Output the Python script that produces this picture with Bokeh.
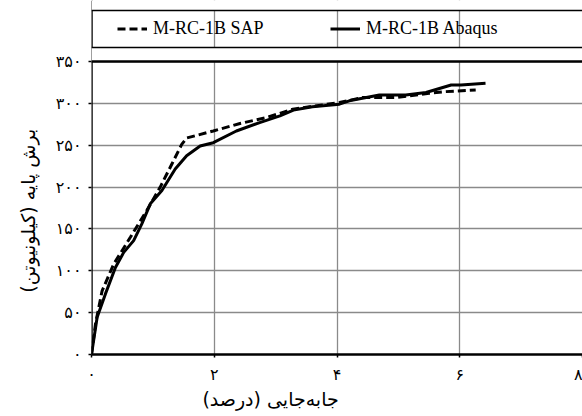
from bokeh.plotting import figure
from bokeh.models import Range1d, Legend, LegendItem, FixedTicker, Span, BoxAnnotation
from bokeh.embed import file_html
from bokeh.resources import INLINE

# Data
sap_x = [0, 0.065, 0.173, 0.362, 0.633, 0.9, 1.12, 1.31, 1.47, 1.55, 1.985, 2.42, 2.85, 3.28, 4.04, 4.42, 4.96, 5.5, 5.77, 6.26]
sap_y = [0, 36.6, 76, 108, 140, 172, 200, 227.6, 251, 258.6, 267, 276, 283, 293, 301, 307, 307, 312, 314, 316]
abq_x = [0, 0.092, 0.227, 0.39, 0.525, 0.687, 0.82, 0.958, 1.147, 1.364, 1.55, 1.77, 1.985, 2.36, 2.74, 3.07, 3.29, 3.6, 4.04, 4.2, 4.69, 5.12, 5.45, 5.86, 6.02, 6.42]
abq_y = [0, 44.5, 72.4, 104, 122, 136, 156, 180, 196, 221.6, 237.5, 249, 253, 267, 277, 285, 292, 296, 299, 303, 310, 310, 313, 322, 322, 324]

x_ticks = [0, 2, 4, 6, 8]
x_tick_labels = ["۰", "۲", "۴", "۶", "۸"]
y_ticks = [0, 50, 100, 150, 200, 250, 300, 350]
y_tick_labels = ["۰", "۵۰", "۱۰۰", "۱۵۰", "۲۰۰", "۲۵۰", "۳۰۰", "۳۵۰"]
x_min, x_max = 0, 8
y_min, y_max = 0, 350

series_names = ["M-RC-1B SAP", "M-RC-1B Abaqus"]
x_title = "جابه‌جایی (درصد)"
y_title = "برش پایه (کیلونیوتن)"

# layout (pixels): data box spans 61..354 vertically; the frame is extended to the
# top of the canvas so that the legend (drawn inside the frame) can sit above the box.
FRAME_BOTTOM = 354
DATA_TOP = 61
LEG_TOP = 10
LEG_BOTTOM = 47
y_view_max = y_max * FRAME_BOTTOM / (FRAME_BOTTOM - DATA_TOP)


def px_to_y(py):
    return (FRAME_BOTTOM - py) * y_view_max / FRAME_BOTTOM


NB = "\u00a0"

p = figure(width=582, height=416, output_backend="svg", toolbar_location=None,
           x_range=Range1d(x_min, x_max), y_range=Range1d(y_min, y_view_max), title_location=None,
           min_border_left=91, min_border_right=0, min_border_top=0, min_border_bottom=416 - FRAME_BOTTOM)

p.background_fill_color = "white"
p.border_fill_color = "white"
p.outline_line_color = None

p.xgrid.grid_line_color = "#8a8a8a"
p.xgrid.grid_line_width = 1.3
p.ygrid.grid_line_color = "#8a8a8a"
p.ygrid.grid_line_width = 1.3

for ax in (p.xaxis[0], p.yaxis[0]):
    ax.axis_line_color = "black"
    ax.axis_line_width = 2.5
    ax.major_tick_out = 3
    ax.major_tick_in = 0
    ax.major_tick_line_color = "black"
    ax.major_tick_line_width = 1.5
    ax.minor_tick_out = 0
    ax.minor_tick_in = 0
    ax.major_label_text_font = "DejaVu Sans"
    ax.major_label_text_font_size = "16px"
    ax.major_label_text_color = "black"
    ax.major_label_standoff = 7
    ax.axis_label_text_font = "DejaVu Sans"
    ax.axis_label_text_font_size = "19px"
    ax.axis_label_text_font_style = "normal"
    ax.axis_label_text_color = "black"

p.yaxis[0].axis_line_color = None
p.xaxis[0].ticker = FixedTicker(ticks=x_ticks)
p.yaxis[0].ticker = FixedTicker(ticks=y_ticks)
p.xaxis[0].major_label_overrides = {t: s for t, s in zip(x_ticks, x_tick_labels)}
p.yaxis[0].major_label_overrides = {t: s for t, s in zip(y_ticks, y_tick_labels)}
# trailing no-break spaces shift the right-to-left titles to where the reference has them
p.xaxis[0].axis_label = x_title + NB * 22
p.yaxis[0].axis_label = y_title + NB * 11
p.xaxis[0].axis_label_standoff = 1
p.yaxis[0].axis_label_standoff = 14

r_sap = p.line(sap_x, sap_y, line_color="black", line_width=3, line_dash="8 4")
r_abq = p.line(abq_x, abq_y, line_color="black", line_width=3)

# data box left border, white covers above the data box (leaving the legend box's left edge)
p.add_layout(Span(location=x_min, dimension="height", line_color="black", line_width=2.5))
p.add_layout(BoxAnnotation(bottom=y_max, top=px_to_y(LEG_BOTTOM), fill_color="white",
                           fill_alpha=1, line_alpha=0))
p.add_layout(BoxAnnotation(bottom=px_to_y(LEG_TOP), fill_color="white", fill_alpha=1, line_alpha=0))
p.add_layout(Span(location=y_max, dimension="width", line_color="black", line_width=2.5))
# legend box top and bottom edges (the box runs past the right edge of the picture)
p.add_layout(Span(location=px_to_y(LEG_TOP), dimension="width", line_color="black", line_width=1.5))
p.add_layout(Span(location=px_to_y(LEG_BOTTOM), dimension="width", line_color="black", line_width=1.5))

leg = Legend(items=[LegendItem(label=series_names[0], renderers=[r_sap]),
                    LegendItem(label=series_names[1], renderers=[r_abq])],
             location=(26, FRAME_BOTTOM - 39), orientation="horizontal",
             padding=0, margin=0, glyph_width=30, label_standoff=6,
             label_width=150, spacing=27, glyph_height=21, label_height=21,
             border_line_color=None, background_fill_alpha=0,
             label_text_font="'Liberation Serif', serif", label_text_font_size="18px",
             label_text_color="black")
p.add_layout(leg, "center")

open("out.html", "w").write(file_html(p, INLINE))
